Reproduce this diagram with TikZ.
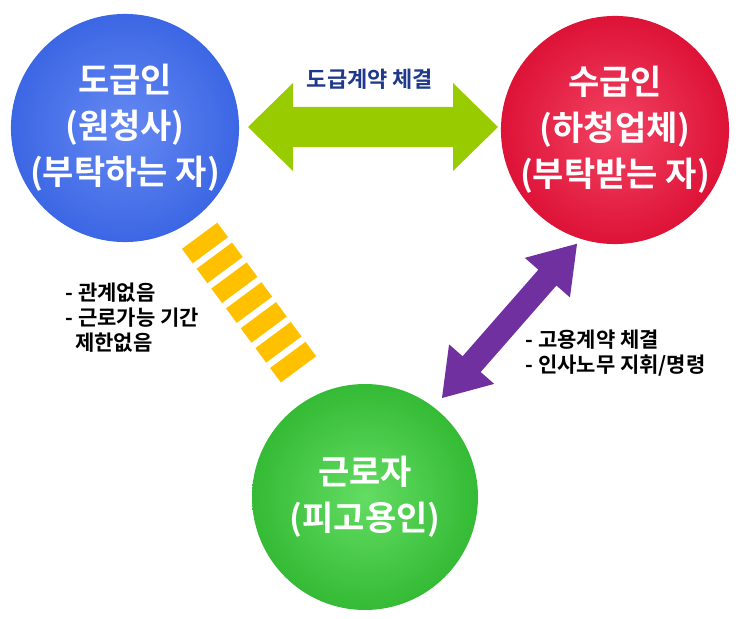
\documentclass[tikz,border=0pt]{standalone}
\usepackage{fontspec}
\setmainfont{Noto Sans CJK KR}[BoldFont={Noto Sans CJK KR Bold}]
\begin{document}
\begin{tikzpicture}[x=1pt,y=1pt,
  circ/.style={circle,minimum size=226pt,inner sep=0pt,text=white,font=\bfseries\fontsize{34}{46}\selectfont,align=center},
  lbl/.style={font=\bfseries\fontsize{21}{25}\selectfont,align=left,anchor=north west}]
\useasboundingbox (0,0) rectangle (740,619);
\definecolor{cblue}{HTML}{3F6CF0}
\definecolor{cred}{HTML}{F0143C}
\definecolor{cgreen}{HTML}{3CD43C}
\node[circ,shading=radial,inner color=cblue!80!white,outer color=cblue!95!black] (A) at (125,491) {도급인\\(원청사)\\(부탁하는 자)};
\node[circ,shading=radial,inner color=cred!80!white,outer color=cred!92!black] (B) at (615,489) {수급인\\(하청업체)\\(부탁받는 자)};
\node[circ,shading=radial,inner color=cgreen!80!white,outer color=cgreen!88!black] (C) at (365,122) {근로자\\(피고용인)};
% green double arrow
\fill[color={rgb,255:red,153;green,204;blue,0}] (248,492) -- (293,536) -- (293,512) -- (453,512) -- (453,536) -- (498,492) -- (453,448) -- (453,472) -- (293,472) -- (293,448) -- cycle;
\node[font=\bfseries\fontsize{22}{24}\selectfont,text={rgb,255:red,31;green,56;blue,140}] (t1) at (370,540) {도급계약 체결};
% purple double arrow
\begin{scope}[shift={(442,221)},rotate=48.8]
\fill[color={rgb,255:red,112;green,48;blue,160}] (0,0) -- (45,30) -- (45,12) -- (160,12) -- (160,30) -- (205,0) -- (160,-30) -- (160,-12) -- (45,-12) -- (45,-30) -- cycle;
\end{scope}
% yellow bars
\begin{scope}[shift={(205,376)},rotate=-53.5]
\foreach \i in {0,...,6}
  \fill[color={rgb,255:red,255;green,192;blue,0}] ({\i*24.7-9},-22) rectangle ({\i*24.7+9},22);
\end{scope}
\node[lbl] (L) at (62,340) {- 관계없음\\- 근로가능 기간\\\ \ 제한없음};
\node[lbl] (R) at (522,293) {- 고용계약 체결\\- 인사노무 지휘/명령};
\end{tikzpicture}
\end{document}
